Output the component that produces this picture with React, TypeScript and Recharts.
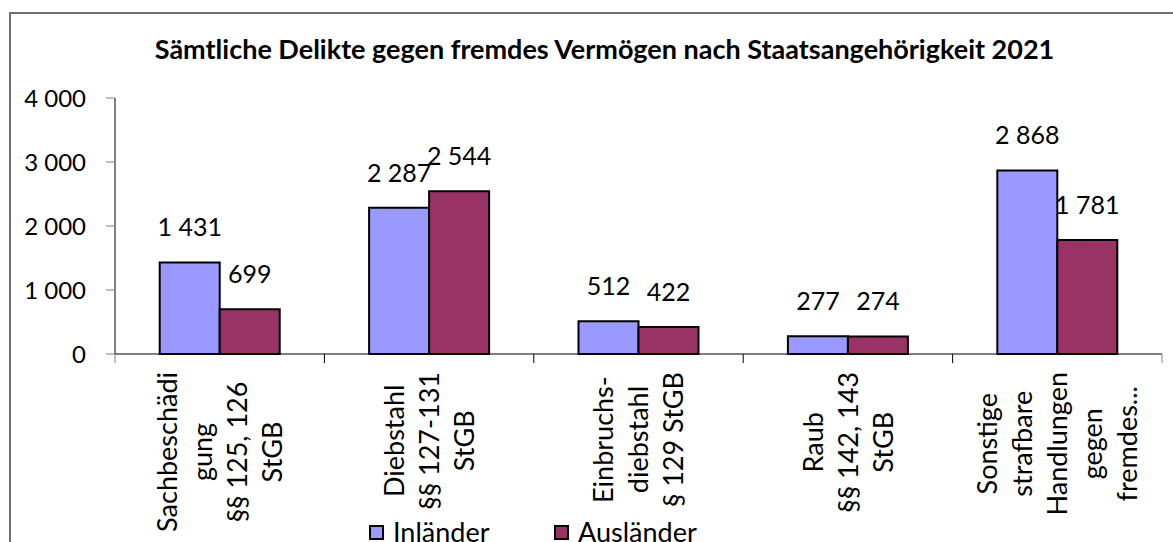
import React from 'react';
import { BarChart, Bar, XAxis, YAxis, Legend, LabelList } from 'recharts';

// Kategorien (Zeilen der gedrehten Achsenbeschriftung)
const categories = [
  ['Sachbeschädi', 'gung', '§§ 125, 126', 'StGB'],
  ['Diebstahl', '§§ 127-131', 'StGB'],
  ['Einbruchs-', 'diebstahl', '§ 129 StGB'],
  ['Raub', '§§ 142, 143', 'StGB'],
  ['Sonstige', 'strafbare', 'Handlungen', 'gegen', 'fremdes...'],
];
const inlaender = [1431, 2287, 512, 277, 2868];
const auslaender = [699, 2544, 422, 274, 1781];
const yTicks = [0, 1000, 2000, 3000, 4000];
const seriesOrder = ['Inländer', 'Ausländer'];

const FONT = 'Lato, "Noto Sans", sans-serif';
const FS = 24;
const FS_CAT = 27;

const data = categories.map((lines, i) => ({
  name: lines.join('\n'),
  inlaender: inlaender[i],
  auslaender: auslaender[i],
}));

const fmt = (v: any) => String(v).replace(/\B(?=(\d{3})+(?!\d))/g, ' ');

let ctx: CanvasRenderingContext2D | null = null;
const measure = (s: string) => {
  if (!ctx) ctx = document.createElement('canvas').getContext('2d');
  if (!ctx) return s.length * FS_CAT * 0.5;
  ctx.font = `${FS_CAT}px Lato`;
  return ctx.measureText(s).width;
};

const CategoryTick = (props: any) => {
  const { x, y, payload, index, visibleTicksCount } = props;
  const half = payload.offset ?? 0;
  const lines = String(payload.value).split('\n');
  const longest = Math.max(...lines.map(measure));
  const cy = y + 18 + longest / 2;
  const lh = 35;
  return (
    <g>
      <line x1={x - half} x2={x - half} y1={y} y2={y + 9} stroke={index === 0 ? '#808080' : '#000'} />
      {index === visibleTicksCount - 1 && (
        <line x1={x + half} x2={x + half} y1={y} y2={y + 9} stroke="#808080" />
      )}
      <g transform={`translate(${x},${cy}) rotate(-90)`}>
        {lines.map((l, i) => (
          <text
            key={i}
            x={0}
            y={(i - (lines.length - 1) / 2) * lh + FS_CAT * 0.36}
            textAnchor="middle"
            fontSize={FS_CAT}
            fontFamily={FONT}
            fill="#000"
          >
            {l}
          </text>
        ))}
      </g>
    </g>
  );
};

const renderLegend = (props: any) => {
  const items = [...(props.payload || [])].sort(
    (a: any, b: any) => seriesOrder.indexOf(a.value) - seriesOrder.indexOf(b.value)
  );
  return (
    <div style={{ display: 'flex', fontFamily: FONT }}>
      {items.map((p: any) => (
        <div key={p.value} style={{ width: 185, display: 'flex', alignItems: 'flex-start' }}>
          <span
            style={{
              width: 15,
              height: 15,
              boxSizing: 'border-box',
              border: '2px solid #000',
              background: p.color,
              marginTop: 9,
              display: 'inline-block',
            }}
          />
          <span style={{ marginLeft: 9, fontSize: FS_CAT, lineHeight: '32px', color: '#000' }}>{p.value}</span>
        </div>
      ))}
    </div>
  );
};

export default function App() {
  return (
    <div
      style={{
        position: 'absolute',
        left: 0,
        top: 0,
        width: 1173,
        height: 542,
        overflow: 'hidden',
        background: '#fff',
        fontFamily: FONT,
      }}
    >
      <div
        style={{
          position: 'absolute',
          left: 9,
          top: 12,
          width: 1300,
          height: 700,
          borderLeft: '2px solid #6e6e6e',
          borderTop: '2px solid #6e6e6e',
        }}
      />
      <div
        style={{
          position: 'absolute',
          left: 0,
          top: 33,
          width: 1209,
          textAlign: 'center',
          fontWeight: 'bold',
          fontSize: 27,
          lineHeight: '32px',
          color: '#000',
          whiteSpace: 'nowrap',
        }}
      >
        Sämtliche Delikte gegen fremdes Vermögen nach Staatsangehörigkeit 2021
      </div>
      <div style={{ position: 'absolute', left: 0, top: 0 }}>
        <BarChart
          width={1173}
          height={542}
          data={data}
          margin={{ top: 98, right: 11, left: 0, bottom: 0 }}
          barCategoryGap="21.35%"
          barGap={0}
        >
          <XAxis
            dataKey="name"
            height={163}
            tickSize={0}
            tickMargin={0}
            interval={0}
            axisLine={{ stroke: '#000' }}
            tickLine={false}
            tick={<CategoryTick />}
          />
          <YAxis
            domain={[0, 4000]}
            ticks={yTicks}
            width={115}
            tickSize={9}
            tickMargin={20}
            interval={0}
            axisLine={{ stroke: '#000' }}
            tickLine={{ stroke: '#808080' }}
            tick={{ fontSize: FS, fill: '#000', fontFamily: FONT }}
            tickFormatter={fmt}
          />
          <Legend
            content={renderLegend}
            wrapperStyle={{ left: 369, top: 516, bottom: 'auto', width: 420, height: 25 }}
          />
          <Bar dataKey="inlaender" name="Inländer" fill="#9999FF" stroke="#000" strokeWidth={2} isAnimationActive={false}>
            <LabelList dataKey="inlaender" position="top" offset={26} formatter={fmt} fill="#000" fontSize={25} fontFamily={FONT} />
          </Bar>
          <Bar dataKey="auslaender" name="Ausländer" fill="#993366" stroke="#000" strokeWidth={2} isAnimationActive={false}>
            <LabelList dataKey="auslaender" position="top" offset={26} formatter={fmt} fill="#000" fontSize={25} fontFamily={FONT} />
          </Bar>
        </BarChart>
      </div>
    </div>
  );
}
